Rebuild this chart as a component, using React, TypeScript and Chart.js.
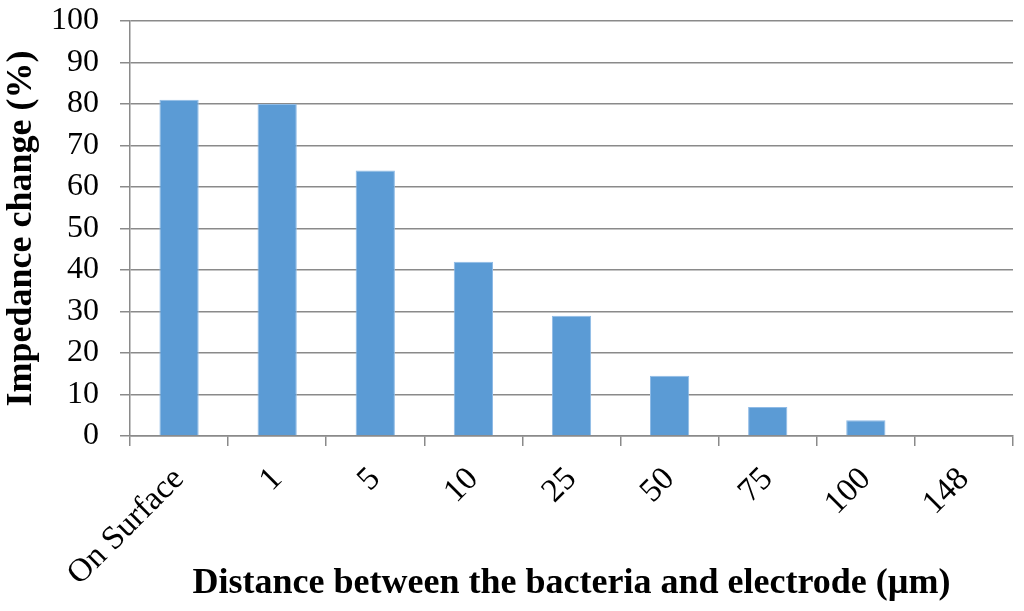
import { useEffect, useRef } from "react";
import { Chart, registerables } from "chart.js";

Chart.register(...registerables);

// distance categories and measured impedance change (%)
const distances = ["On Surface", "1", "5", "10", "25", "50", "75", "100", "148"];
const impedanceChange = [81, 80, 64, 42, 29, 14.5, 7, 3.8, 0];

const serif = "'Liberation Serif', 'Times New Roman', serif";
const gridGray = "#8a8a8a";

export default function App() {
  const canvasRef = useRef<HTMLCanvasElement | null>(null);

  useEffect(() => {
    if (!canvasRef.current) return;
    const ctx = canvasRef.current.getContext("2d");
    if (!ctx) return;

    const chart = new Chart(ctx, {
      type: "bar",
      data: {
        labels: distances,
        datasets: [
          {
            label: "Impedance change",
            data: impedanceChange,
            backgroundColor: "#5b9bd5",
            borderColor: "#8fbbe6",
            borderWidth: 1,
            barPercentage: 0.4,
            categoryPercentage: 1,
          },
        ],
      },
      options: {
        responsive: false,
        animation: false,
        layout: { padding: { top: 21, right: 11, left: 0, bottom: 0 } },
        plugins: {
          legend: { display: false },
          tooltip: { enabled: false },
        },
        scales: {
          x: {
            afterFit: (scale: any) => {
              scale.height = 175;
            },
            grid: {
              offset: true,
              drawOnChartArea: false,
              drawTicks: true,
              tickLength: 10,
              color: gridGray,
              lineWidth: 1.5,
            },
            border: { display: true, color: gridGray, width: 1.5 },
            ticks: {
              autoSkip: false,
              minRotation: 45,
              maxRotation: 45,
              padding: 14,
              color: "#000",
              font: { family: serif, size: 33 },
            },
            title: {
              display: true,
              text: "Distance between the bacteria and electrode (µm)",
              color: "#000",
              font: { family: serif, size: 36, weight: "bold" },
              padding: { top: 0, bottom: 6 },
            },
          },
          y: {
            min: 0,
            max: 100,
            afterFit: (scale: any) => {
              scale.width = 130;
              scale.paddingTop = 0;
              scale.paddingBottom = 0;
            },
            grid: {
              color: gridGray,
              lineWidth: 1.5,
              tickLength: 10,
            },
            border: { display: true, color: gridGray, width: 1.5 },
            ticks: {
              autoSkip: false,
              stepSize: 10,
              padding: 21,
              color: "#000",
              font: { family: serif, size: 32 },
            },
            title: {
              display: true,
              text: "Impedance change (%)",
              color: "#000",
              font: { family: serif, size: 36, weight: "bold" },
              padding: { top: 0, bottom: 0 },
            },
          },
        },
      },
    });

    return () => {
      chart.destroy();
    };
  }, []);

  return (
    <div style={{ position: "fixed", left: 0, top: 0, width: 1024, height: 611, background: "#fff" }}>
      <canvas ref={canvasRef} width={1024} height={611}></canvas>
    </div>
  );
}
